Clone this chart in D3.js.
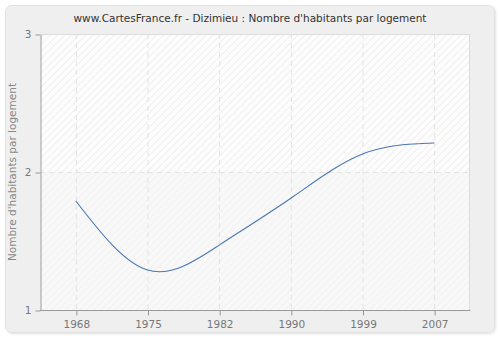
<!DOCTYPE html>
<html><head><meta charset="utf-8">
<script src="https://cdn.jsdelivr.net/npm/d3@7"></script>
<style>body{margin:0;background:#fff}svg{display:block}</style>
</head><body>
<script>
const years = ["1968","1975","1982","1990","1999","2007"];
const values = [1.79, 1.29, 1.47, 1.81, 2.13, 2.21];
const yTicks = [1, 2, 3];
const title = "www.CartesFrance.fr - Dizimieu : Nombre d'habitants par logement";
const yLabel = "Nombre d'habitants par logement";

const W = 500, H = 340;
const svg = d3.select("body").append("svg").attr("width", W).attr("height", H);
const defs = svg.append("defs");
const f = defs.append("filter").attr("id","sh").attr("x","-5%").attr("y","-5%").attr("width","110%").attr("height","110%");
f.append("feDropShadow").attr("dx",1).attr("dy",1).attr("stdDeviation",1).attr("flood-color","#000").attr("flood-opacity",0.12);
const p1 = defs.append("pattern").attr("id","hatch1").attr("patternUnits","userSpaceOnUse").attr("width",5).attr("height",5).attr("patternTransform","rotate(45)");
p1.append("rect").attr("width",5).attr("height",5).attr("fill","#fdfdfd");
p1.append("line").attr("x1",0).attr("y1",0).attr("x2",0).attr("y2",5).attr("stroke","#ebebeb").attr("stroke-width",1.5);
const p2 = defs.append("pattern").attr("id","hatch2").attr("patternUnits","userSpaceOnUse").attr("width",5).attr("height",5).attr("patternTransform","rotate(45)");
p2.append("rect").attr("width",5).attr("height",5).attr("fill","#f8f8f8");
p2.append("line").attr("x1",0).attr("y1",0).attr("x2",0).attr("y2",5).attr("stroke","#f1f1f1").attr("stroke-width",1.5);

svg.append("rect").attr("x",5.5).attr("y",5.5).attr("width",489).attr("height",327).attr("rx",6)
  .attr("fill","#efefef").attr("stroke","#e2e2e2").attr("filter","url(#sh)");

const L = 40, R = 470, T = 34, B = 310;
const x = d3.scalePoint().domain(years).range([L, R]).padding(0.5);
const y = d3.scaleLinear().domain([1, 3]).range([B, T]);

svg.append("rect").attr("x",L).attr("y",T).attr("width",R-L).attr("height",y(2)-T).attr("fill","url(#hatch1)");
svg.append("rect").attr("x",L).attr("y",y(2)).attr("width",R-L).attr("height",B-y(2)).attr("fill","url(#hatch2)");
svg.append("path").attr("d",`M${L},${T+0.5}H${R-0.5}V${B}`).attr("fill","none").attr("stroke","#dcdcdc");

const grid = svg.append("g").attr("stroke","#e2e2e2").attr("stroke-dasharray","5,4").attr("fill","none");
years.forEach(d => grid.append("line").attr("x1",x(d)+0.5).attr("x2",x(d)+0.5).attr("y1",T).attr("y2",B));
yTicks.filter(v => v>1 && v<3).forEach(v => grid.append("line").attr("x1",L).attr("x2",R).attr("y1",Math.round(y(v))+0.5).attr("y2",Math.round(y(v))+0.5));

const line = d3.line().x((d,i)=>x(years[i])).y(d=>y(d)).curve(d3.curveNatural);
svg.append("path").datum(values).attr("d",line).attr("fill","none").attr("stroke","#4a78b0").attr("stroke-width",1.1);

const xAxis = svg.append("g").attr("transform",`translate(0.5,${B+0.5})`).call(d3.axisBottom(x).tickSize(5).tickSizeOuter(0).tickPadding(5));
xAxis.select(".domain").attr("d",`M${L-0.5},0H${R}`);
const yAxis = svg.append("g").attr("transform",`translate(${L+0.5},0.5)`).call(d3.axisLeft(y).tickValues(yTicks).tickFormat(d3.format("d")).tickSize(5).tickSizeOuter(0).tickPadding(4));
[xAxis, yAxis].forEach(a => {
  a.selectAll(".domain").attr("stroke","#999");
  a.selectAll(".tick line").attr("stroke","#999");
  a.selectAll("text").attr("fill","#777").attr("font-family","DejaVu Sans, sans-serif").attr("font-size",10.5);
});

svg.append("text").attr("x",250).attr("y",22).attr("text-anchor","middle").attr("font-family","DejaVu Sans, sans-serif")
  .attr("font-size",10.5).attr("fill","#333").text(title);
svg.append("text").attr("transform",`translate(16,${(T+B)/2}) rotate(-90)`).attr("text-anchor","middle")
  .attr("font-family","DejaVu Sans, sans-serif").attr("font-size",10.5).attr("fill","#888").text(yLabel);
</script>
</body></html>
